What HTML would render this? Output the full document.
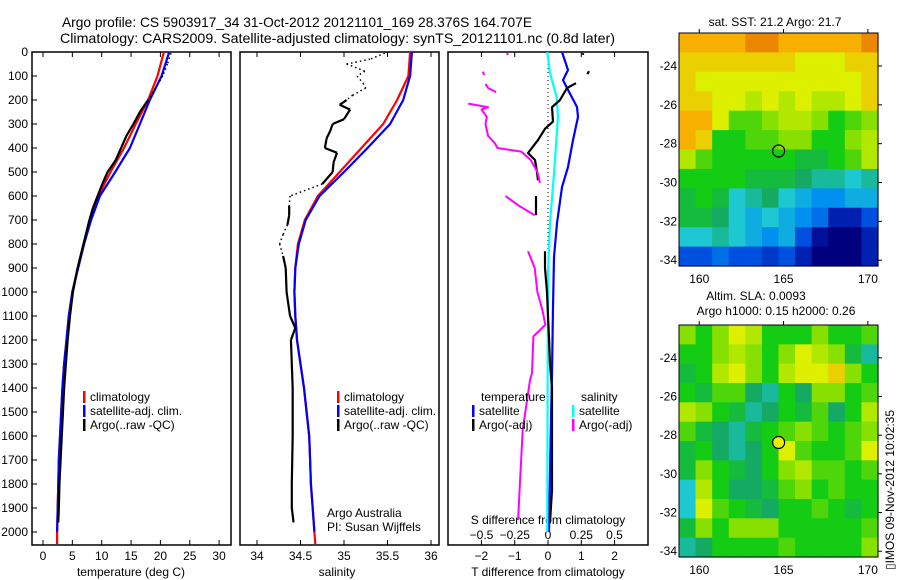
<!DOCTYPE html>
<html><head><meta charset="utf-8">
<style>
html,body{margin:0;padding:0;background:#fff;}
svg{display:block;font-family:"Liberation Sans",sans-serif;}
</style></head>
<body>
<svg id="fig" width="900" height="580" viewBox="0 0 900 580" xmlns="http://www.w3.org/2000/svg">
<rect x="0" y="0" width="900" height="580" fill="#fff"/>
<text x="62" y="27" font-size="14" textLength="470" lengthAdjust="spacingAndGlyphs">Argo profile: CS 5903917_34 31-Oct-2012 20121101_169 28.376S 164.707E</text>
<text x="60" y="43" font-size="14" textLength="555" lengthAdjust="spacingAndGlyphs">Climatology: CARS2009. Satellite-adjusted climatology: synTS_20121101.nc (0.8d later)</text>
<g id="maps"></g>
<g id="panels"></g>
<text x="775" y="26" font-size="12" text-anchor="middle">sat. SST: 21.2 Argo: 21.7</text>
<text x="756" y="300" font-size="12" text-anchor="middle">Altim. SLA: 0.0093</text>
<text x="776" y="315" font-size="12" text-anchor="middle">Argo h1000: 0.15 h2000: 0.26</text>
<text transform="translate(894,570) rotate(-90)" font-size="12">▯IMOS 09-Nov-2012 10:02:35</text>
</svg>
<script>
// ---------- data ----------
const climP = [0,100,200,300,400,500,600,700,800,900,1000,1100,1200,1300,1400,1500,1600,1700,1800,1900,2000,2050];
const climT = [20.6,19.5,17.9,15.8,13.8,11.5,9.4,8.0,6.9,5.9,5.0,4.4,4.0,3.6,3.3,3.1,2.9,2.7,2.6,2.5,2.4,2.4];
const satT  = [21.5,20.2,18.2,16.5,14.8,12.3,9.7,8.2,7.0,6.0,5.0,4.4,4.0,3.6,3.3,3.1,2.9,2.7,2.6,2.5,2.4];
const climS = [35.76,35.74,35.61,35.45,35.2,34.95,34.7,34.55,34.47,34.44,34.43,34.44,34.46,34.5,34.54,34.57,34.6,34.61,34.62,34.64,34.66,34.67];
const satS  = [35.78,35.76,35.68,35.53,35.27,35.0,34.72,34.56,34.48,34.44,34.43,34.44,34.46,34.5,34.54,34.57,34.6,34.61,34.62,34.64,34.66];

const argoTP = [5,50,100,150,200,250,300,350,400,450,500,550,600,650,700,800,900,1000,1100,1200,1300,1400,1500,1600,1700,1800,1900,1960];
const argoT  = [21.8,21.2,20.4,19.2,17.9,16.5,15.4,14.2,13.3,12.4,11.0,10.1,9.3,8.5,7.9,6.9,5.9,5.1,4.6,4.2,3.9,3.6,3.4,3.2,3.0,2.8,2.7,2.6];
const argoTgood = [0,0,0,0,1,1,1,1,1,1,1,1,1,1,1,1,1,1,1,1,1,1,1,1,1,1,1,1];

const argoSP = [5,30,50,80,100,130,150,180,200,220,240,280,300,330,360,400,420,460,500,550,600,640,680,720,760,800,850,900,1000,1100,1150,1200,1300,1400,1600,1800,1900,1960];
const argoS  = [35.47,35.3,35.03,35.24,35.15,35.22,35.25,35.1,35.03,34.95,35.07,35.0,34.87,34.84,34.8,34.78,34.92,34.88,34.87,34.75,34.38,34.37,34.37,34.35,34.3,34.26,34.3,34.33,34.34,34.38,34.44,34.39,34.4,34.41,34.41,34.4,34.4,34.42];
const argoSgood = [0,0,0,0,0,0,0,0,1,1,1,1,1,1,1,1,1,1,1,1,0,1,1,1,0,0,1,1,1,1,1,1,1,1,1,1,1,1];

const dP = [0,75,117,158,229,271,367,479,563,713,854,1063,1338,1600,2000];
const satDT = [0.42,0.6,0.45,0.6,0.87,0.9,0.75,0.6,0.42,0.27,0.18,0.15,0.12,0.08,0.03];
const sdP = [0,88,187,267,475,713,921,1400,2000];
const satDS = [-0.005,0.015,0.065,0.075,0.05,0.015,0,-0.003,-0.005];

const argoDTP = [5,12,null,80,92,null,130,150,200,230,290,320,367,421,450,500,535,null,600,640,680,null,830,900,1000,1100,1190,1300,1400,1600,1825,1960];
const argoDT  = [1.05,1.05,null,1.23,1.18,null,0.84,0.57,0.36,0.12,0.15,-0.09,-0.3,-0.6,-0.39,-0.33,-0.3,null,-0.36,-0.36,-0.36,null,-0.09,-0.09,-0.03,0.0,0.03,0.06,0.12,0.12,0.12,0.06];
const argoDSP = [4,12,null,82,96,null,133,150,167,null,215,230,240,270,300,350,380,400,415,450,500,545,null,600,640,680,null,830,900,1000,1080,1137,1185,1338,1367,1575,1783,1950];
const argoDS  = [-0.31,-0.3,null,-0.49,-0.48,null,-0.47,-0.45,-0.39,null,-0.6,-0.45,-0.5,-0.46,-0.47,-0.45,-0.4,-0.38,-0.2,-0.13,-0.08,-0.06,null,-0.32,-0.22,-0.1,null,-0.15,-0.1,-0.08,-0.04,-0.02,-0.11,-0.12,-0.135,-0.19,-0.21,-0.225];

const pTicks = [0,100,200,300,400,500,600,700,800,900,1000,1100,1200,1300,1400,1500,1600,1700,1800,1900,2000];
const tTicks = [0,5,10,15,20,25,30];
const sTicks = [34,34.5,35,35.5,36];
const dtTicks = [-2,-1,0,1,2];
const dsTicks = [-0.5,-0.25,0,0.25,0.5];
const dsTickLabels = ["\u22120.5","\u22120.25","0","0.25","0.5"];
const dtTickLabels = ["\u22122","\u22121","0","1","2"];

const sstGrid = [
[9,9,9,9,9.5,9.5,9,9,9,9,9,9.5],
[8.5,8.5,8.5,8.5,8.5,8.5,8.5,8,8,8,8.5,8.5],
[8.5,8,8,8,8,8,8,8,8,8,8,8.5],
[8.5,8.5,8,8,7.5,8,7.5,8,7.5,7.5,8,8.5],
[9,9,8,6.5,6.5,7,7.5,7.5,7,6,6.5,7],
[9,8.5,6,6,6.5,6.5,7,7,6,6,7,7.5],
[7.5,6.5,6,6,6,6,6,5.5,5.5,6,6.5,7.5],
[6,6,6,6,5.5,5.5,5.5,5,4.5,4.5,4,4.5],
[5.5,6,5.5,4,4.5,5,4,3.5,3,3,3.5,3.5],
[5.5,5.5,5,4,3.5,4,3.5,3,2.5,1,1,2],
[4,4,4.5,4,3.5,3,3.5,2,0.5,0,0,1],
[2,2,2.5,2,2,1.5,2,1,0,0,0,1]];
const slaGrid = [
[7,6,7,8,7.5,6,6,6,7,6,6,6.5],
[6,6,7,7.5,7,6,7,8,7.5,7,5.5,4.5],
[5.5,6,7.5,8,7,6,7.5,8,8,8.5,7,6],
[6,5.5,6.5,6.5,5,4.5,6,5,7,7,6,6.5],
[7.5,7,6,5.5,4.5,5,6,5.5,6.5,5,6,7.5],
[6.5,5.5,5,4.5,5.5,6,6.5,7,6.5,6,6.5,7],
[5.5,6,5,4.5,5,6,8,6.5,6,6,6.5,8],
[5.5,7,6,5.5,5,6,7,7.5,6.5,6.5,6,6.5],
[4,7.5,6,5,5,5.5,6.5,7,6,6.5,6,6],
[4,8,6.5,6,5.5,5,6,6,6.5,6,5.5,6],
[5.5,7,6,7,7,7,6,6,6,6,6,6.5],
[4.5,5,6,6,6,6,6.5,6,6,6,6,7]];
const lonTicks = [160,165,170];
const latTicks = [-24,-26,-28,-30,-32,-34];
const argoLon = 164.707, argoLat = -28.376;

// ---------- helpers ----------
const NS = "http://www.w3.org/2000/svg";
function mk(tag, attrs, parent){ const e=document.createElementNS(NS,tag); for(const k in attrs) e.setAttribute(k,attrs[k]); parent.appendChild(e); return e; }
const panels = document.getElementById('panels');
const maps = document.getElementById('maps');
const yP = p => 52 + p*0.24;
const PT = 52, PB = 545;
const xT = t => 43 + t*5.87;
const xS = s => 257 + (s-34)*87;
const xDT = d => 548 + d*33.3;
const xDS = d => 548 + d*133;

function line(pArr, vArr, xf, color, width, name, dash){
  let pts=[]; const segs=[];
  for(let i=0;i<vArr.length;i++){
    if(vArr[i]===null||pArr[i]===null){ if(pts.length) segs.push(pts); pts=[]; continue; }
    pts.push(xf(vArr[i]).toFixed(1)+","+yP(pArr[i]).toFixed(1));
  }
  if(pts.length) segs.push(pts);
  segs.forEach(s=>{
    const e = mk('polyline',{points:s.join(' '),fill:'none',stroke:color,'stroke-width':width,'stroke-linejoin':'round'},panels);
    if(dash) e.setAttribute('stroke-dasharray',dash);
    
    
  });
}
function flagged(pArr, vArr, good, xf, name){
  for(let i=0;i<vArr.length-1;i++){
    const ok = good[i]&&good[i+1];
    const e = mk('line',{x1:xf(vArr[i]),y1:yP(pArr[i]),x2:xf(vArr[i+1]),y2:yP(pArr[i+1]),stroke:'#000','stroke-width':ok?2.2:1.5},panels);
    if(!ok) e.setAttribute('stroke-dasharray','1.5,3');
    
    
  }
}
function frame(x0,x1,name){
  const r = mk('rect',{x:x0,y:PT,width:x1-x0,height:PB-PT,fill:'none',stroke:'#000','stroke-width':1.5},panels);
  
  
}
function xTicks(vals, labels, xf, y, name){
  vals.forEach((v,i)=>{
    mk('line',{x1:xf(v),y1:PB,x2:xf(v),y2:PB-5,stroke:'#000'},panels);
    mk('line',{x1:xf(v),y1:PT,x2:xf(v),y2:PT+5,stroke:'#000'},panels);
    const t = mk('text',{x:xf(v),y:y,'font-size':12,'text-anchor':'middle'},panels);
    t.textContent = labels[i];
    
    
  });
}
function legend(x,y,color,label,name){
  mk('rect',{x:x-1,y:y-6,width:2.5,height:12,fill:color},panels);
  const t = mk('text',{x:x+6,y:y+4,'font-size':12},panels);
  t.textContent = label;
  
  
}
function txt(x,y,s,name,anchor){
  const t = mk('text',{x:x,y:y,'font-size':12,'text-anchor':anchor||'start'},panels);
  t.textContent = s;
  
  
}

// ---------- panel 1 ----------
frame(32,231,'temperature-panel');
pTicks.forEach(p=>{
  mk('line',{x1:32,y1:yP(p),x2:37,y2:yP(p),stroke:'#000'},panels);
  const t = mk('text',{x:28,y:yP(p)+4,'font-size':12,'text-anchor':'end'},panels);
  t.textContent = p;
  
  
});
xTicks(tTicks, tTicks.map(String), xT, 560, 'temperature-tick-label');
txt(131,576,'temperature (deg C)','temperature-axis-title','middle');
line(climP, climT, xT, '#f00', 2.2, 'climatology-temperature-line');
line(climP.slice(0,satT.length), satT, xT, '#00f', 2.2, 'satellite-temperature-line');
flagged(argoTP, argoT, argoTgood, xT, 'argo-temperature-line');
legend(84,397,'#f00','climatology','legend-climatology');
legend(84,411,'#00f','satellite-adj. clim.','legend-satellite-adj');
legend(84,425,'#000','Argo(..raw -QC)','legend-argo');

// ---------- panel 2 ----------
frame(240,439,'salinity-panel');
xTicks(sTicks, sTicks.map(String), xS, 560, 'salinity-tick-label');
txt(337,576,'salinity','salinity-axis-title','middle');
line(climP, climS, xS, '#f00', 2.2, 'climatology-salinity-line');
line(climP.slice(0,satS.length), satS, xS, '#00f', 2.2, 'satellite-salinity-line');
flagged(argoSP, argoS, argoSgood, xS, 'argo-salinity-line');
legend(338,397,'#f00','climatology','legend-climatology-s');
legend(338,411,'#00f','satellite-adj. clim.','legend-satellite-adj-s');
legend(338,425,'#000','Argo(..raw -QC)','legend-argo-s');
txt(327,517,'Argo Australia','credit-argo-australia');
txt(327,531,'PI: Susan Wijffels','credit-pi');

// ---------- panel 3 ----------
frame(448,648,'difference-panel');
mk('line',{x1:548,y1:PT,x2:548,y2:yP(1300),stroke:'#000','stroke-width':1,'stroke-dasharray':'1,3'},panels);
xTicks(dtTicks, dtTickLabels, xDT, 560, 'temperature-difference-tick-label');
dsTicks.forEach((v,i)=>{
  const t = mk('text',{x:xDS(v),y:539,'font-size':12,'text-anchor':'middle'},panels);
  t.textContent = dsTickLabels[i];
  
  
});
txt(548,524,'S difference from climatology','salinity-difference-axis-title','middle');
txt(548,576,'T difference from climatology','temperature-difference-axis-title','middle');
line(dP, satDT, xDT, '#00f', 2.2, 'satellite-temperature-difference-line');
line(sdP, satDS, xDS, '#0ff', 2.2, 'satellite-salinity-difference-line');
line(argoDTP, argoDT, xDT, '#000', 2.2, 'argo-temperature-difference-line');
line(argoDSP, argoDS, xDS, '#f0f', 2, 'argo-salinity-difference-line');
txt(481,401,'temperature','legend-temperature-header');
txt(581,401,'salinity','legend-salinity-header');
legend(473,411,'#00f','satellite','legend-t-satellite');
legend(473,425,'#000','Argo(-adj)','legend-t-argo');
legend(573,411,'#0ff','satellite','legend-s-satellite');
legend(573,425,'#f0f','Argo(-adj)','legend-s-argo');

// ---------- maps ----------
const stops = [[0,0,0,127],[1,0,32,176],[2,0,80,224],[3,0,144,240],[4,30,200,210],[5,20,170,100],[6,20,204,20],[7,136,224,0],[8,220,240,0],[9,248,176,0],[10,224,96,0]];
function cmap(v){
  v=Math.max(0,Math.min(10,v)); const i=Math.min(9,Math.floor(v)); const f=v-i;
  const a=stops[i], b=stops[i+1];
  return 'rgb('+[1,2,3].map(k=>Math.round(a[k]+(b[k]-a[k])*f)).join(',')+')';
}
function drawMap(grid, top, bottom, name, circleFill){
  const L=679, R=878, lon0=158.8, lon1=170.6, lat0=-22.3, lat1=-34.3;
  const xL = lo => L + (lo-lon0)/(lon1-lon0)*(R-L);
  const yL = la => top + (la-lat0)/(lat1-lat0)*(bottom-top);
  const nr=grid.length, nc=grid[0].length;
  const g = mk('g',{},maps);
  
  
  for(let r=0;r<nr;r++) for(let c=0;c<nc;c++){
    const x0=L+c*(R-L)/nc, y0=top+r*(bottom-top)/nr;
    const cell = mk('rect',{x:x0.toFixed(2),y:y0.toFixed(2),width:((R-L)/nc+0.6).toFixed(2),height:((bottom-top)/nr+0.6).toFixed(2),fill:cmap(grid[r][c])},g);
    
    
  }
  mk('rect',{x:L,y:top,width:R-L,height:bottom-top,fill:'none',stroke:'#000','stroke-width':1},g);
  lonTicks.forEach(lo=>{
    mk('line',{x1:xL(lo),y1:top,x2:xL(lo),y2:top-4,stroke:'#000'},g);
    const t = mk('text',{x:xL(lo),y:bottom+17,'font-size':12,'text-anchor':'middle'},g);
    t.textContent = lo;
    
    
  });
  latTicks.forEach(la=>{
    mk('line',{x1:R,y1:yL(la),x2:R+4,y2:yL(la),stroke:'#000'},g);
    const t = mk('text',{x:L-2,y:yL(la)+4,'font-size':12,'text-anchor':'end'},g);
    t.textContent = '-'+Math.abs(la);
    
    
  });
  const c = mk('circle',{cx:xL(argoLon),cy:yL(argoLat),r:6,fill:circleFill,stroke:'#000','stroke-width':1.2},g);
  
  
}
drawMap(sstGrid, 33, 266, 'sst-map', 'none');
drawMap(slaGrid, 325, 557, 'sla-map', '#e8f000');
</script>
</body></html>
